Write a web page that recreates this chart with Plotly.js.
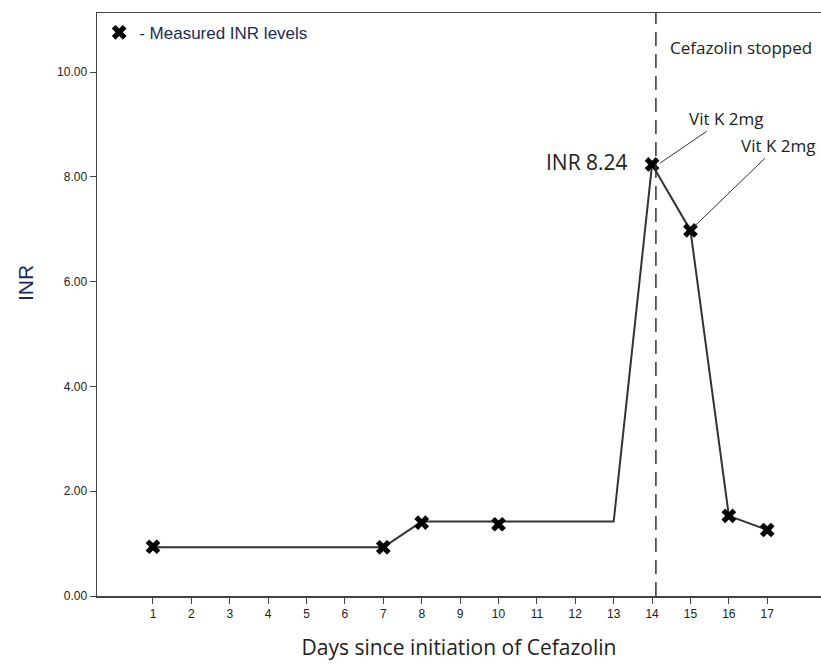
<!DOCTYPE html>
<html>
<head>
<meta charset="utf-8">
<script src="https://cdn.plot.ly/plotly-3.0.1.min.js"></script>
<style>html,body{margin:0;padding:0;background:#fff;}#chart{width:821px;height:666px;}</style>
</head>
<body>
<div id="chart"></div>
<script>
// Measured INR values (markers)
const measuredDays = [1, 7, 8, 10, 14, 15, 16, 17];
const measuredINR = [0.94, 0.93, 1.40, 1.37, 8.24, 6.98, 1.53, 1.26];
// Connecting line path (includes the day-13 vertex without a marker)
const lineDays = [1, 7, 8, 10, 13, 14, 15, 16, 17];
const lineINR = [0.93, 0.93, 1.42, 1.42, 1.42, 8.24, 6.98, 1.53, 1.26];
// Axis ticks
const xTicks = [1, 2, 3, 4, 5, 6, 7, 8, 9, 10, 11, 12, 13, 14, 15, 16, 17];
const yTicks = [0, 2, 4, 6, 8, 10];
// Event markers
const stopDay = 14.1;
const vitKDays = [14.2, 15.05];
const vitKINR = [8.26, 7.02];
const vitKLabels = ["Vit K 2mg", "Vit K 2mg"];

const txt = '#222';
const data = [
  {x: lineDays, y: lineINR, mode: 'lines', line: {color: '#333', width: 2}, showlegend: false, hoverinfo: 'skip'},
  {x: measuredDays, y: measuredINR, mode: 'markers', name: '- Measured INR levels',
   marker: {symbol: 'x', size: 13, color: '#000', line: {width: 0}}}
];

const layout = {
  width: 821, height: 666,
  margin: {l: 97, r: 0, t: 13, b: 70},
  paper_bgcolor: '#fff', plot_bgcolor: '#fff',
  showlegend: true,
  legend: {x: 0.003, y: 0.997, xanchor: 'left', yanchor: 'top', bgcolor: 'rgba(0,0,0,0)',
           font: {family: 'Liberation Sans Narrow, Arial Narrow, Liberation Sans', size: 17, color: '#1c2a55'}, itemwidth: 30},
  xaxis: {range: [-0.458, 18.4], tickvals: xTicks, ticktext: xTicks.map(String),
          showgrid: false, zeroline: false, showline: true, mirror: true, linecolor: '#444', linewidth: 1.5,
          ticks: 'outside', ticklen: 6, tickcolor: '#444',
          tickfont: {family: 'Liberation Sans, Arial', size: 12, color: txt},
          title: {text: 'Days since initiation of Cefazolin', standoff: 20,
                  font: {family: 'Open Sans', size: 21, color: txt}}},
  yaxis: {range: [0, 11.13], tickvals: yTicks, tickformat: '.2f',
          showgrid: false, zeroline: false, showline: true, linecolor: '#444', linewidth: 1.5,
          ticks: 'outside', ticklen: 6, tickcolor: '#444',
          tickfont: {family: 'Liberation Sans, Arial', size: 12, color: txt}},
  shapes: [
    {type: 'line', xref: 'x', yref: 'paper', x0: stopDay, x1: stopDay, y0: 0, y1: 1,
     line: {color: '#333', width: 1.5, dash: '14px,8px'}}
  ],
  annotations: [
    {x: -0.098, y: 0.537, xref: 'paper', yref: 'paper', text: 'INR', showarrow: false, textangle: -90,
     xanchor: 'center', yanchor: 'middle', font: {family: 'Liberation Sans, Arial', size: 21, color: '#1c2a55'}},
    {x: 14.42, y: 10.48, xref: 'x', yref: 'y', text: 'Cefazolin stopped', showarrow: false,
     xanchor: 'left', yanchor: 'middle', font: {family: 'Open Sans', size: 17, color: txt}},
    {x: 13.42, y: 8.28, xref: 'x', yref: 'y', text: 'INR 8.24', showarrow: false,
     xanchor: 'right', yanchor: 'middle', font: {family: 'Open Sans', size: 21, color: txt}},
    {x: vitKDays[0], y: vitKINR[0], xref: 'x', yref: 'y', text: vitKLabels[0], showarrow: true,
     arrowhead: 0, arrowwidth: 1, arrowcolor: '#333', ax: 66, ay: -45,
     font: {family: 'Open Sans', size: 17, color: txt}},
    {x: vitKDays[1], y: vitKINR[1], xref: 'x', yref: 'y', text: vitKLabels[1], showarrow: true,
     arrowhead: 0, arrowwidth: 1, arrowcolor: '#333', ax: 86, ay: -83,
     font: {family: 'Open Sans', size: 17, color: txt}}
  ]
};

Plotly.newPlot('chart', data, layout, {displayModeBar: false, staticPlot: true});
</script>
</body>
</html>
